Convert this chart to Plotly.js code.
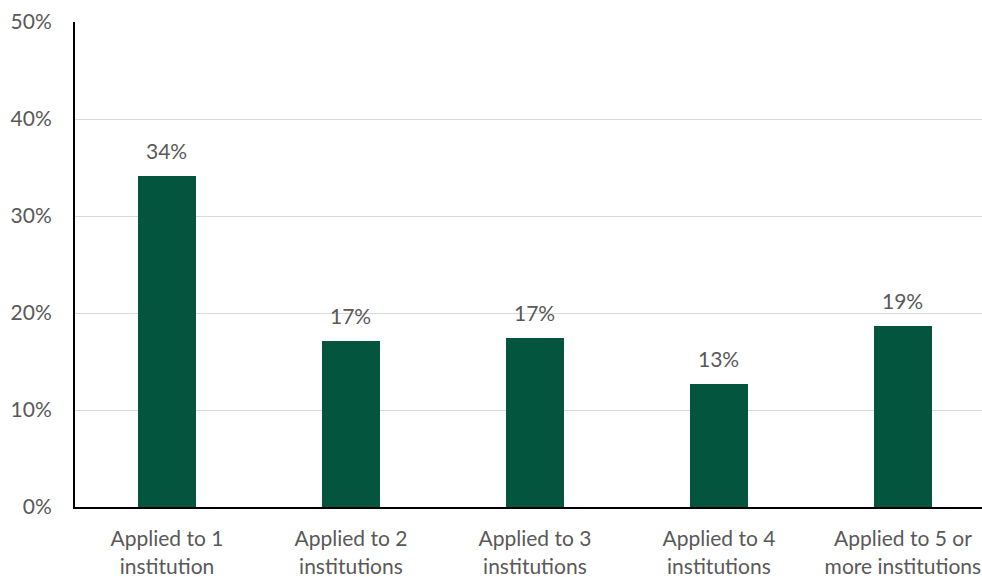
<!DOCTYPE html>
<html>
<head>
<meta charset="utf-8">
<script src="https://cdn.plot.ly/plotly-3.0.1.min.js"></script>
<style>html,body{margin:0;padding:0;background:#fff;}#chart{width:982px;height:577px;}</style>
</head>
<body>
<div id="chart"></div>
<script>
const categories = ["Applied to 1<br>institution", "Applied to 2<br>institutions", "Applied to 3<br>institutions", "Applied to 4<br>institutions", "Applied to 5 or<br>more institutions"];
const shares = [0.341, 0.171, 0.174, 0.127, 0.187];
const yTickVals = [0, 0.1, 0.2, 0.3, 0.4, 0.5];
const yTickText = ["0%", "10%", "20%", "30%", "40%", "50%"];

const textColor = "#595959";
const fontFamily = "Lato, 'Open Sans', sans-serif";

const trace = {
  type: "bar",
  x: categories,
  y: shares,
  width: 0.315,
  marker: {color: "#03553D"},
  hoverinfo: "none"
};

const annotations = categories.map((c, i) => ({
  x: c, y: shares[i], xref: "x", yref: "y",
  text: Math.round(shares[i] * 100) + "%",
  showarrow: false, yanchor: "bottom", yshift: 11,
  font: {family: fontFamily, size: 21, color: textColor}
}));

const layout = {
  width: 982, height: 577,
  margin: {l: 75, r: 0, t: 22, b: 70, pad: 0},
  paper_bgcolor: "#fff", plot_bgcolor: "#fff",
  showlegend: false,
  bargap: 0,
  xaxis: {
    type: "category",
    range: [-0.5, 4.43],
    showline: true, linecolor: "#000", linewidth: 2,
    showgrid: false, zeroline: false,
    ticks: "", ticklabelstandoff: 12,
    tickfont: {family: fontFamily, size: 21, color: textColor}
  },
  yaxis: {
    range: [0, 0.5],
    tickvals: yTickVals, ticktext: yTickText,
    showline: true, linecolor: "#000", linewidth: 2,
    showgrid: true, gridcolor: "#d9d9d9", gridwidth: 1,
    zeroline: false,
    ticks: "", ticklabelstandoff: 17,
    tickfont: {family: fontFamily, size: 21, color: textColor}
  },
  annotations: annotations
};

Plotly.newPlot("chart", [trace], layout, {staticPlot: true, displayModeBar: false});
</script>
</body>
</html>
